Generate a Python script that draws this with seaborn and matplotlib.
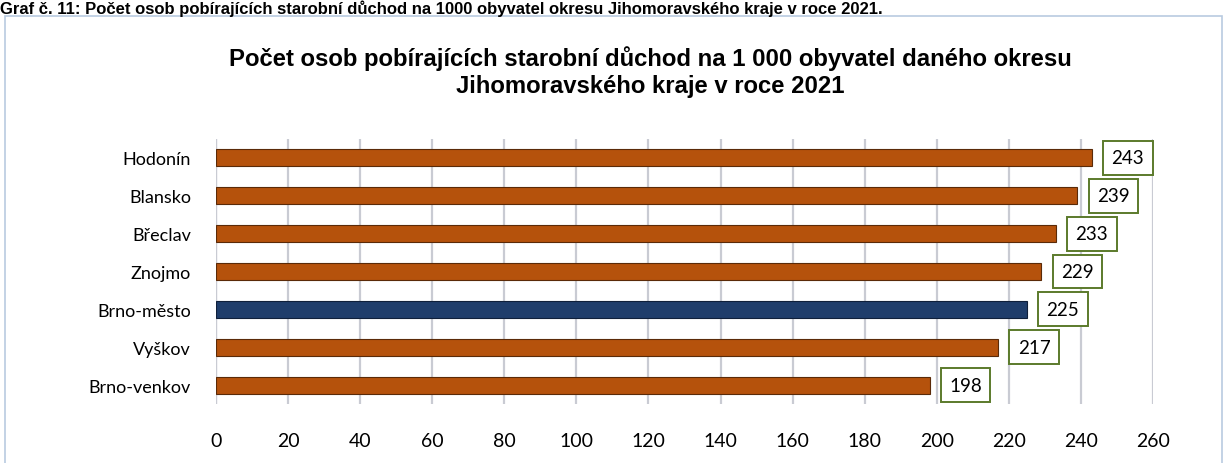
import matplotlib
matplotlib.use("Agg")
import matplotlib.pyplot as plt
import seaborn as sns
import pandas as pd
from matplotlib.patches import Rectangle

districts = ["Hodonín", "Blansko", "Břeclav", "Znojmo", "Brno-město", "Vyškov", "Brno-venkov"]
values = [243, 239, 233, 229, 225, 217, 198]
bar_colors = ["#B5520C", "#B5520C", "#B5520C", "#B5520C", "#1F3D6B", "#B5520C", "#B5520C"]
x_ticks = list(range(0, 261, 20))

caption = "Graf č. 11: Počet osob pobírajících starobní důchod na 1000 obyvatel okresu Jihomoravského kraje v roce 2021."
title = "Počet osob pobírajících starobní důchod na 1 000 obyvatel daného okresu\nJihomoravského kraje v roce 2021"

sns.set_theme(style="white")
plt.rcParams['font.family'] = ['Lato', 'DejaVu Sans']
plt.rcParams['text.color'] = 'black'
plt.rcParams['xtick.color'] = 'black'
plt.rcParams['ytick.color'] = 'black'

df = pd.DataFrame({"district": districts, "value": values})

W, H = 1228, 464
fig = plt.figure(figsize=(W / 100, H / 100), dpi=100)
ax = fig.add_axes([216 / W, 1 - 405 / H, (1153 - 216) / W, (405 - 140) / H])

palette = dict(zip(districts, bar_colors))
sns.barplot(data=df, x="value", y="district", hue="district", palette=palette,
            order=districts, orient="h", width=0.45, legend=False, ax=ax,
            edgecolor="#5a2a08", linewidth=0.8, saturation=1)
for p, c in zip(ax.patches, bar_colors):
    if c == "#1F3D6B":
        p.set_edgecolor("#0f1f3a")

ax.set_xlim(0, 260)
ax.set_ylim(len(districts) - 0.5, -0.5)
ax.set_xticks(x_ticks)
ax.set_xticklabels([str(t) for t in x_ticks], fontsize=14, color="black")
ax.tick_params(axis="x", pad=20, length=0, labelcolor="black")
ax.tick_params(axis="y", pad=18, length=0, labelsize=13, labelcolor="black")
ax.set_xlabel("")
ax.set_ylabel("")
ax.grid(axis="x", color="#C9CBD3", linewidth=1.6)
ax.set_axisbelow(True)
for s in ax.spines.values():
    s.set_visible(False)
ax.axvline(0, color="#C9CBD3", linewidth=1.6, zorder=0)

for i, v in enumerate(values):
    ax.annotate(str(v), xy=(v, i), xytext=(26, 0), textcoords="offset points",
                va="center", ha="center", fontsize=13.5, color="black",
                fontfamily=["Lato", "DejaVu Sans"],
                bbox=dict(boxstyle="square,pad=0.45", fc="white", ec="#5B7A2B", lw=1.4))

fig.text(650 / W, 1 - 72 / H, title, ha="center", va="center", fontsize=17.2,
         fontweight="bold", color="black",
         fontfamily=["Liberation Sans", "DejaVu Sans"], linespacing=1.25)

fig.text(0.0, 1.0, caption, ha="left", va="top", fontsize=12, color="black",
         fontweight="bold", fontfamily=["Liberation Sans Narrow", "Liberation Sans", "DejaVu Sans"])

fig.patches.append(Rectangle((5 / W, -0.05), (1222 - 5) / W, (1 - 17 / H) + 0.05,
                             transform=fig.transFigure, fill=False,
                             ec="#B9CBE0", lw=1.2))

fig.savefig("out.png", dpi=100)
